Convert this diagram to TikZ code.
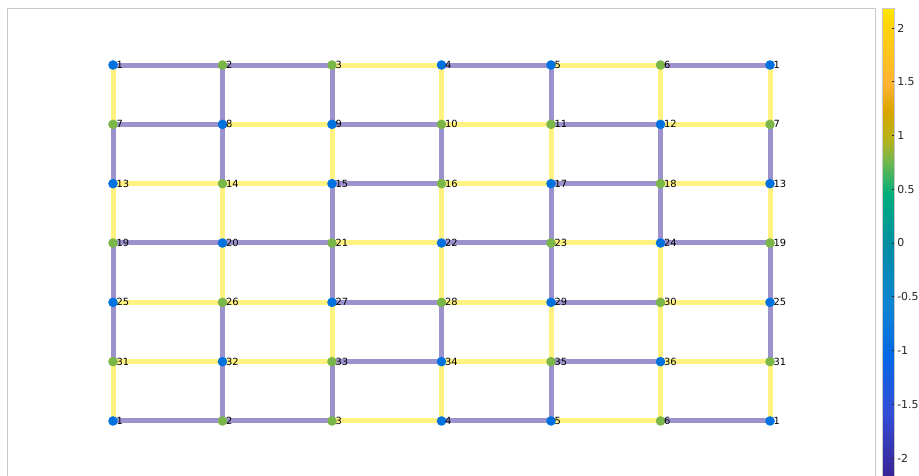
\documentclass[tikz,border=0pt]{standalone}
\usepackage{fontspec}
\setmainfont{DejaVu Sans}
\pgfdeclarelayer{bg}
\pgfsetlayers{bg,main}
\definecolor{edgeP}{RGB}{156,146,206}
\definecolor{edgeY}{RGB}{255,242,128}
\definecolor{dotB}{RGB}{0,114,224}
\definecolor{dotG}{RGB}{122,182,72}
\definecolor{framegray}{RGB}{200,200,200}
\definecolor{txt}{RGB}{38,38,38}
\definecolor{cba}{rgb}{0.21,0.13,0.55}
\definecolor{cbb}{rgb}{0.22,0.16,0.62}
\definecolor{cbc}{rgb}{0.20,0.30,0.84}
\definecolor{cbd}{rgb}{0.02,0.40,0.90}
\definecolor{cbe}{rgb}{0.05,0.52,0.82}
\definecolor{cbf}{rgb}{0.00,0.55,0.65}
\definecolor{cbg}{rgb}{0.00,0.68,0.48}
\definecolor{cbh}{rgb}{0.45,0.72,0.30}
\definecolor{cbi}{rgb}{0.72,0.70,0.10}
\definecolor{cbj}{rgb}{0.85,0.65,0.00}
\definecolor{cbk}{rgb}{1.00,0.70,0.20}
\definecolor{cbl}{rgb}{1.00,0.82,0.05}
\definecolor{cbm}{rgb}{1.00,0.90,0.00}
\pgfdeclareverticalshading{cbar}{100bp}{color(0bp)=(cba); color(25bp)=(cba); color(26.8bp)=(cbb); color(32.6bp)=(cbc); color(38.3bp)=(cbd); color(44.1bp)=(cbe); color(49.8bp)=(cbf); color(55.5bp)=(cbg); color(59bp)=(cbh); color(61.3bp)=(cbi); color(64.2bp)=(cbj); color(67.1bp)=(cbk); color(72.8bp)=(cbl); color(75bp)=(cbm); color(100bp)=(cbm)}
\tikzset{
  gdot/.style={circle, inner sep=0pt, minimum size=7.2pt, draw=none},
  lbl/.style={inner sep=0pt, anchor=west, font=\fontsize{7.4}{8}\selectfont, text=black},
  gedge/.style={line width=3.75pt},
  cblbl/.style={inner sep=0pt, anchor=west, font=\fontsize{8.2}{9}\selectfont, text=txt},
}
\newcommand\gridrow[2]{%
  \foreach \ci/\kk in {#2}{%
    \pgfmathtruncatemacro\lab{6*mod(#1,6)+mod(\ci,6)+1}%
    \node[gdot, fill=dot\kk] (n-#1-\ci) at ({113+109.5*\ci},{65+59.33*#1}) {};
    \node[lbl] (t-#1-\ci) at ([xshift=2.5pt]n-#1-\ci.center) {\lab};
  }}
\newcommand\hedges[2]{%
  \foreach \ci/\kk in {#2}{%
    \pgfmathtruncatemacro\cn{\ci+1}%
    \draw[gedge, draw=edge\kk] (n-#1-\ci.center) -- (n-#1-\cn.center);
  }}
\newcommand\vedges[2]{%
  \foreach \ri/\kk in {#2}{%
    \pgfmathtruncatemacro\rn{\ri+1}%
    \draw[gedge, draw=edge\kk] (n-\ri-#1.center) -- (n-\rn-#1.center);
  }}
\begin{document}
\begin{tikzpicture}[x=0.75pt, y=-0.75pt]
\useasboundingbox (0,0) rectangle (919,475);
\begin{pgfonlayer}{bg}
\fill[white] (0,0) rectangle (919,475);
\end{pgfonlayer}
\draw[framegray, line width=0.75pt] (7.5,485) -- (7.5,8) -- (875,8) -- (875,485);
% colorbar
\shade[shading=cbar] (882,8.5) rectangle (894,485);
\draw[framegray, line width=0.6pt] (882,485) -- (882,8.5) -- (894,8.5) -- (894,485);
\foreach \v [count=\i] in {2,1.5,1,0.5,0,-0.5,-1,-1.5,-2}{
  \draw[txt, line width=0.5pt] (891.5,{243-107.5*\v}) -- (894,{243-107.5*\v});
  \node[cblbl] (cb-\i) at (897,{243-107.5*\v}) {\v};
}
% nodes
\gridrow{0}{0/B,1/G,2/G,3/B,4/B,5/G,6/B}
\gridrow{1}{0/G,1/B,2/B,3/G,4/G,5/B,6/G}
\gridrow{2}{0/B,1/G,2/B,3/G,4/B,5/G,6/B}
\gridrow{3}{0/G,1/B,2/G,3/B,4/G,5/B,6/G}
\gridrow{4}{0/B,1/G,2/B,3/G,4/B,5/G,6/B}
\gridrow{5}{0/G,1/B,2/G,3/B,4/G,5/B,6/G}
\gridrow{6}{0/B,1/G,2/G,3/B,4/B,5/G,6/B}
% edges
\begin{pgfonlayer}{bg}
\hedges{0}{0/P,1/P,2/Y,3/P,4/Y,5/P}
\hedges{1}{0/P,1/Y,2/P,3/Y,4/P,5/Y}
\hedges{2}{0/Y,1/Y,2/P,3/Y,4/P,5/Y}
\hedges{3}{0/P,1/P,2/Y,3/P,4/Y,5/P}
\hedges{4}{0/Y,1/Y,2/P,3/Y,4/P,5/Y}
\hedges{5}{0/Y,1/Y,2/P,3/Y,4/P,5/Y}
\hedges{6}{0/P,1/P,2/Y,3/P,4/Y,5/P}
\vedges{0}{0/Y,1/P,2/Y,3/P,4/P,5/Y}
\vedges{1}{0/P,1/P,2/Y,3/Y,4/P,5/P}
\vedges{2}{0/P,1/Y,2/P,3/P,4/Y,5/P}
\vedges{3}{0/Y,1/P,2/Y,3/Y,4/P,5/Y}
\vedges{4}{0/P,1/Y,2/P,3/P,4/Y,5/P}
\vedges{5}{0/Y,1/P,2/P,3/Y,4/Y,5/Y}
\vedges{6}{0/Y,1/P,2/Y,3/P,4/P,5/Y}
\end{pgfonlayer}
\end{tikzpicture}
\end{document}
